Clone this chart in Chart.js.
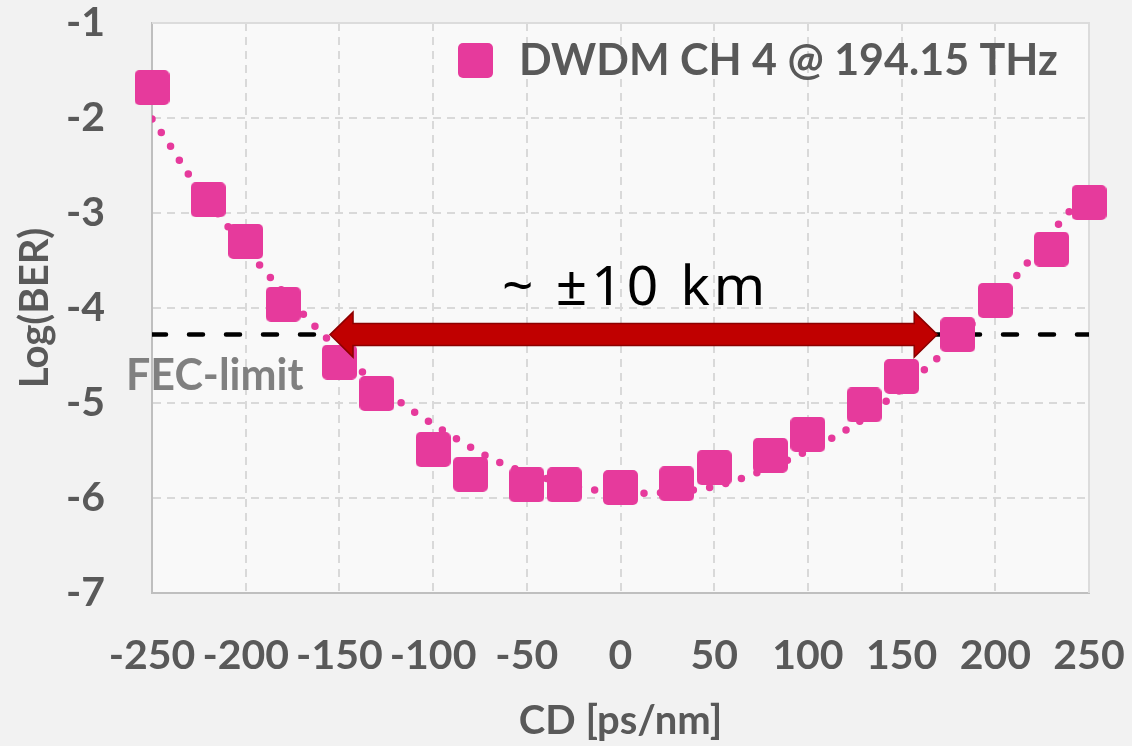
<!DOCTYPE html>
<html>
<head>
<meta charset="utf-8">
<title>BER vs CD</title>
<style>
  html, body { margin: 0; padding: 0; background: #f3f3f3; }
  #chart { display: block; }
</style>
</head>
<body>
<canvas id="chart" width="1132" height="746"></canvas>
<script src="https://cdn.jsdelivr.net/npm/chart.js@4.4.1/dist/chart.umd.min.js"></script>
<script>
// measured points, DWDM CH 4
var cdValues  = [-250, -220, -200, -180, -150, -130, -100, -80, -50, -30, 0, 30, 50, 80, 100, 130, 150, 180, 200, 230, 250];
var berValues = [-1.68, -2.86, -3.30, -3.96, -4.57, -4.90, -5.49, -5.75, -5.86, -5.86, -5.89, -5.85, -5.68, -5.55, -5.33, -5.02, -4.72, -4.28, -3.92, -3.38, -2.89];

// dotted trendline
var trendCd  = [-250, -240, -231, -210, -192, -169, -139, -119, -93, -63, -35, -16, 11, 37, 54, 72, 96, 124, 145, 169, 190, 211, 232, 250];
var trendBer = [-2.01, -2.30, -2.58, -3.13, -3.56, -4.07, -4.65, -4.97, -5.31, -5.64, -5.82, -5.91, -5.95, -5.92, -5.86, -5.74, -5.54, -5.24, -4.93, -4.53, -4.12, -3.67, -3.16, -2.74];

var fecLimit = -4.28;
var fecLabel = 'FEC-limit';
var seriesName = 'DWDM CH 4 @ 194.15 THz';
var rangeText = '~ ±10 km';
var rangeFrom = -155;   // arrow tips, in ps/nm
var rangeTo = 169;

var pink = '#e63a9c';
var gray = '#595959';
var fam = 'Lato, "Noto Sans", sans-serif';

function toPoints(xs, ys) {
  var out = [];
  for (var i = 0; i < xs.length; i++) out.push({x: xs[i], y: ys[i]});
  return out;
}

// rounded square used for markers and legend
function makeMarker(size, r) {
  var c = document.createElement('canvas');
  c.width = size; c.height = size;
  var g = c.getContext('2d');
  g.fillStyle = pink;
  g.beginPath();
  g.roundRect(0, 0, size, size, r);
  g.fill();
  return c;
}
var marker = makeMarker(35, 5);

var backdrop = {
  id: 'backdrop',
  beforeDraw: function(chart) {
    var ctx = chart.ctx, a = chart.chartArea;
    ctx.save();
    ctx.fillStyle = '#f2f2f2';
    ctx.fillRect(0, 0, chart.width, chart.height);
    ctx.fillStyle = '#f9f9f9';
    ctx.fillRect(a.left, a.top, a.right - a.left, a.bottom - a.top);
    ctx.restore();
  },
  beforeDatasetsDraw: function(chart) {
    var ctx = chart.ctx, a = chart.chartArea;
    ctx.save();
    ctx.strokeStyle = '#dcdcdc';
    ctx.lineWidth = 2;
    ctx.beginPath();
    ctx.moveTo(a.left, a.top);
    ctx.lineTo(a.right, a.top);
    ctx.lineTo(a.right, a.bottom);
    ctx.stroke();
    ctx.restore();
  }
};

function drawArrow(ctx, x1, x2, y) {
  var sh = 11, hh = 22.5, hl = 23;
  ctx.beginPath();
  ctx.moveTo(x1, y);
  ctx.lineTo(x1 + hl, y - hh);
  ctx.lineTo(x1 + hl, y - sh);
  ctx.lineTo(x2 - hl, y - sh);
  ctx.lineTo(x2 - hl, y - hh);
  ctx.lineTo(x2, y);
  ctx.lineTo(x2 - hl, y + hh);
  ctx.lineTo(x2 - hl, y + sh);
  ctx.lineTo(x1 + hl, y + sh);
  ctx.lineTo(x1 + hl, y + hh);
  ctx.closePath();
  ctx.fillStyle = '#c00000';
  ctx.fill();
  ctx.strokeStyle = '#8c0000';
  ctx.lineWidth = 1.5;
  ctx.stroke();
}

var annotate = {
  id: 'annotate',
  afterDatasetsDraw: function(chart) {
    var ctx = chart.ctx, a = chart.chartArea;
    var xs = chart.scales.x, ys = chart.scales.y;
    var yFec = ys.getPixelForValue(fecLimit);
    var x1 = xs.getPixelForValue(rangeFrom), x2 = xs.getPixelForValue(rangeTo);
    ctx.save();
    drawArrow(ctx, x1, x2, yFec);

    ctx.fillStyle = '#000';
    ctx.font = '55px "Noto Sans", Lato, sans-serif';
    ctx.letterSpacing = '4px';
    ctx.textAlign = 'center';
    ctx.textBaseline = 'alphabetic';
    ctx.fillText(rangeText, (x1 + x2) / 2 + 2, yFec - 30);
    ctx.letterSpacing = '0px';

    ctx.fillStyle = '#808080';
    ctx.font = 'bold 43px ' + fam;
    ctx.textAlign = 'left';
    ctx.fillText(fecLabel, a.left - 26, yFec + 55);

    // legend inside the plot, top right
    ctx.drawImage(marker, a.left + 306, a.top + 20);
    ctx.fillStyle = gray;
    ctx.font = 'bold 43px ' + fam;
    ctx.textBaseline = 'middle';
    ctx.fillText(seriesName, a.left + 367, a.top + 38);
    ctx.restore();
  }
};

var tickFont = {family: fam, size: 41, weight: 'bold'};
var titleFont = {family: fam, size: 40, weight: 'bold'};

new Chart('chart', {
  type: 'line',
  data: {
    datasets: [{
      label: seriesName,
      data: toPoints(cdValues, berValues),
      showLine: false,
      pointStyle: marker,
      pointRadius: 17,
      backgroundColor: pink,
      borderColor: pink,
      clip: false,
      order: 0
    }, {
      label: 'trend',
      data: toPoints(trendCd, trendBer),
      borderColor: pink,
      borderWidth: 7.5,
      borderDash: [0, 16.5],
      borderCapStyle: 'round',
      pointRadius: 0,
      cubicInterpolationMode: 'monotone',
      fill: false,
      order: 1
    }, {
      label: fecLabel,
      data: [{x: -250, y: fecLimit}, {x: 250, y: fecLimit}],
      borderColor: '#000',
      borderWidth: 4.5,
      borderDash: [14, 23],
      borderCapStyle: 'round',
      pointRadius: 0,
      fill: false,
      order: 2
    }]
  },
  options: {
    responsive: false,
    animation: false,
    devicePixelRatio: 1,
    layout: {padding: {top: 23, right: 43, left: 0, bottom: 0}},
    plugins: {
      legend: {display: false},
      tooltip: {enabled: false}
    },
    scales: {
      x: {
        type: 'linear',
        min: -250,
        max: 250,
        afterFit: function(scale) {
          scale.height = 153;
          scale.paddingLeft = 0;
          scale.paddingRight = 0;
        },
        ticks: {stepSize: 50, autoSkip: false, maxRotation: 0, minRotation: 0, color: gray, font: tickFont, padding: 38},
        grid: {color: '#d9d9d9', lineWidth: 2, drawTicks: false},
        border: {color: '#bfbfbf', width: 2, dash: [8, 6]},
        title: {display: true, text: 'CD [ps/nm]', color: gray, font: titleFont, padding: {top: 0, bottom: 1}}
      },
      y: {
        min: -7,
        max: -1,
        afterFit: function(scale) {
          scale.width = 152;
          scale.paddingTop = 0;
          scale.paddingBottom = 0;
        },
        ticks: {stepSize: 1, color: gray, font: tickFont, padding: 47},
        grid: {color: '#d9d9d9', lineWidth: 2, drawTicks: false},
        border: {color: '#bfbfbf', width: 2, dash: [8, 6]},
        title: {display: true, text: 'Log(BER)', color: gray, font: titleFont, padding: {top: 11, bottom: 0}}
      }
    }
  },
  plugins: [backdrop, annotate]
});
</script>
</body>
</html>
